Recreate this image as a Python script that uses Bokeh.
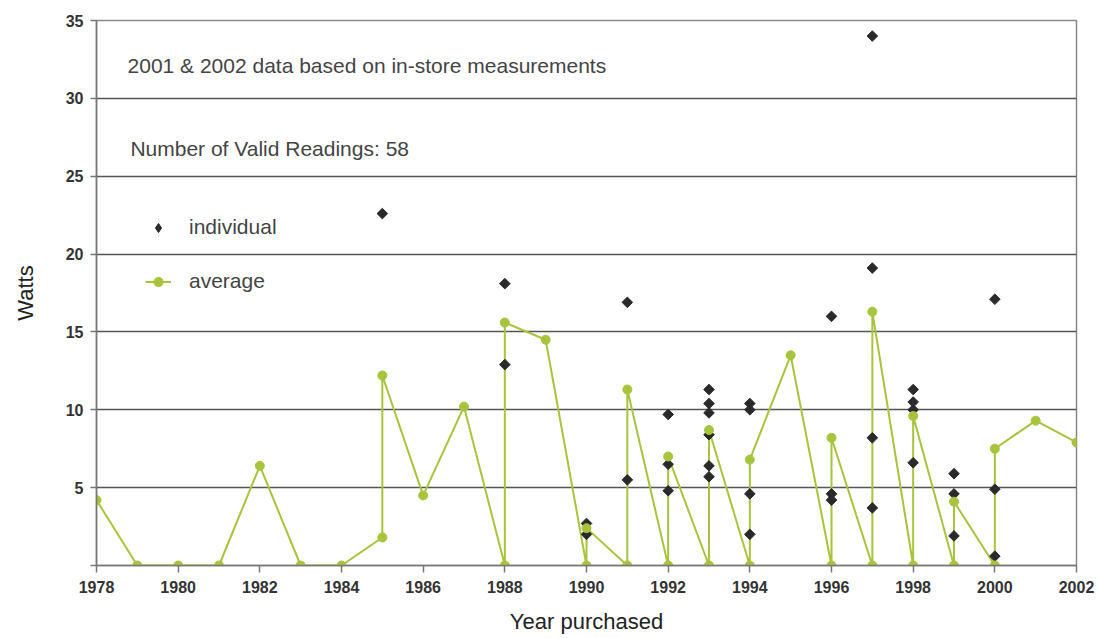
from bokeh.plotting import figure
from bokeh.models import FixedTicker, Legend, LegendItem, Label, Range1d
from bokeh.embed import file_html
from bokeh.resources import INLINE

# ---- data ----
avg_years = [1978, 1979, 1980, 1981, 1982, 1983, 1984, 1985, 1985, 1986, 1987,
             1988, 1988, 1989, 1990, 1990, 1991, 1991, 1992, 1992, 1993, 1993,
             1994, 1994, 1995, 1996, 1996, 1997, 1997, 1998, 1998, 1999, 1999,
             2000, 2000, 2001, 2002]
avg_watts = [4.2, 0, 0, 0, 6.4, 0, 0, 1.8, 12.2, 4.5, 10.2,
             0, 15.6, 14.5, 0, 2.4, 0, 11.3, 0, 7.0, 0, 8.7,
             0, 6.8, 13.5, 0, 8.2, 0, 16.3, 0, 9.6, 0, 4.1,
             0, 7.5, 9.3, 7.9]

ind_years = [1985,
             1988, 1988,
             1990, 1990,
             1991, 1991,
             1992, 1992, 1992,
             1993, 1993, 1993, 1993, 1993, 1993,
             1994, 1994, 1994, 1994,
             1996, 1996, 1996,
             1997, 1997, 1997, 1997,
             1998, 1998, 1998, 1998,
             1999, 1999, 1999,
             2000, 2000, 2000]
ind_watts = [22.6,
             18.1, 12.9,
             2.7, 2.0,
             16.9, 5.5,
             9.7, 6.5, 4.8,
             11.3, 10.4, 9.8, 8.4, 6.4, 5.7,
             10.4, 10.0, 4.6, 2.0,
             16.0, 4.6, 4.2,
             34.0, 19.1, 8.2, 3.7,
             11.3, 10.5, 10.0, 6.6,
             5.9, 4.6, 1.9,
             17.1, 4.9, 0.6]

x_ticks = list(range(1978, 2003, 2))
y_ticks = [0, 5, 10, 15, 20, 25, 30, 35]

note1 = "2001 & 2002 data based on in-store measurements"
note2 = "Number of Valid Readings: 58"

GREEN = "#a8c33c"
DARK = "#2a2a2a"
FONT = "Liberation Sans"

p = figure(width=1098, height=638,
           x_range=Range1d(1978, 2002), y_range=Range1d(0, 35),
           output_backend="svg", toolbar_location=None,
           min_border_left=96, min_border_right=22,
           min_border_top=20, min_border_bottom=73)

p.background_fill_color = "white"
p.border_fill_color = "white"
p.outline_line_color = "#888888"
p.outline_line_width = 1.5

# axes
p.xaxis.ticker = FixedTicker(ticks=x_ticks)
p.yaxis.ticker = FixedTicker(ticks=y_ticks)
p.yaxis.major_label_overrides = {0: ""}
for ax in (p.xaxis[0], p.yaxis[0]):
    ax.axis_line_color = "#777777"
    ax.axis_line_width = 1.5
    ax.major_tick_line_color = "#777777"
    ax.major_tick_line_width = 1.5
    ax.major_tick_in = 0
    ax.minor_tick_line_color = None
    ax.major_label_text_font = FONT
    ax.major_label_text_font_style = "bold"
    ax.major_label_text_font_size = "16px"
    ax.major_label_text_color = "#333333"
    ax.axis_label_text_font = FONT
    ax.axis_label_text_font_style = "normal"
    ax.axis_label_text_font_size = "22px"
    ax.axis_label_text_color = "#222222"

p.xaxis.major_tick_out = 7
p.xaxis.major_label_standoff = 8
p.xaxis.axis_label = "Year purchased"
p.xaxis.axis_label_standoff = 13

p.yaxis.major_tick_out = 6
p.yaxis.major_label_standoff = 7
p.yaxis.axis_label = "Watts"
p.yaxis.axis_label_standoff = 25

p.xgrid.visible = False
p.ygrid.ticker = FixedTicker(ticks=y_ticks[1:])
p.ygrid.grid_line_color = "#555555"
p.ygrid.grid_line_width = 1.3

# data
line = p.line(avg_years, avg_watts, line_color=GREEN, line_width=2)
diam = p.scatter(ind_years, ind_watts, marker="square", angle=0.785398,
                 size=7.5, fill_color=DARK, line_color=DARK)
circ = p.scatter(avg_years, avg_watts, marker="circle", size=9,
                 fill_color=GREEN, line_color=GREEN)
# hidden twin of the individual series, used only to draw the legend key
diam_key = p.scatter(ind_years, ind_watts, marker="diamond", size=14,
                     fill_color=DARK, line_color=DARK, visible=False)

# notes
p.add_layout(Label(x=1978.76, y=32.1, text=note1, text_font=FONT,
                   text_font_size="21px", text_color="#444444",
                   text_baseline="middle"))
p.add_layout(Label(x=1978.83, y=26.8, text=note2, text_font=FONT,
                   text_font_size="21px", text_color="#444444",
                   text_baseline="middle"))

legend = Legend(items=[LegendItem(label="individual", renderers=[diam_key]),
                       LegendItem(label="average", renderers=[line, circ])],
                location=(49, 272))
legend.background_fill_alpha = 0
legend.border_line_alpha = 0
legend.inactive_fill_alpha = 0
legend.padding = 0
legend.margin = 0
legend.spacing = 30
legend.label_height = 20
legend.glyph_height = 23
legend.glyph_width = 26
legend.label_standoff = 18
legend.label_text_font = FONT
legend.label_text_font_size = "21px"
legend.label_text_color = "#444444"
p.add_layout(legend)

open("out.html", "w").write(file_html(p, INLINE))
